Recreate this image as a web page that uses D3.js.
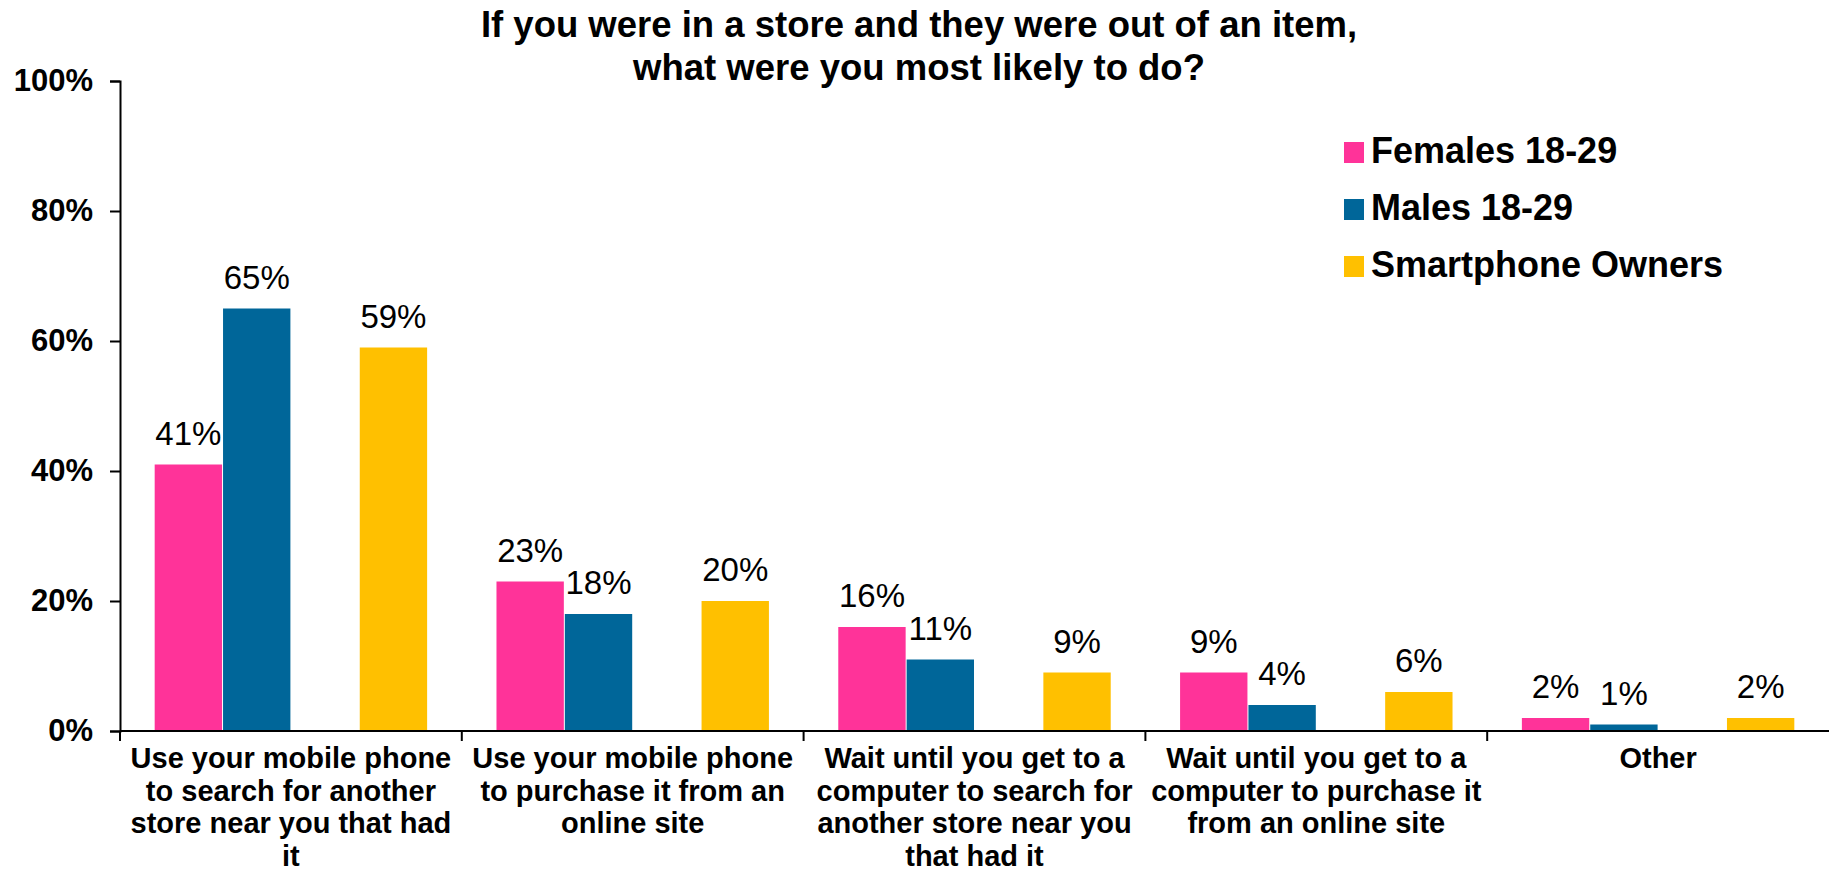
<!DOCTYPE html>
<html>
<head>
<meta charset="utf-8">
<script src="https://cdn.jsdelivr.net/npm/d3@7"></script>
<style>
  html, body { margin: 0; padding: 0; background: #ffffff; }
  svg { display: block; font-family: "Liberation Sans", Arial, Helvetica, sans-serif; }
</style>
</head>
<body>
<svg id="chart" width="1829" height="873"></svg>
<script>
// Survey answers (category axis)
const categories = [
  "Use your mobile phone to search for another store near you that had it",
  "Use your mobile phone to purchase it from an online site",
  "Wait until you get to a computer to search for another store near you that had it",
  "Wait until you get to a computer to purchase it from an online site",
  "Other"
];
// Wrapped category labels, one entry per line
const categoryLines = [
  ["Use your mobile phone", "to search for another", "store near you that had", "it"],
  ["Use your mobile phone", "to purchase it from an", "online site"],
  ["Wait until you get to a", "computer to search for", "another store near you", "that had it"],
  ["Wait until you get to a", "computer to purchase it", "from an online site"],
  ["Other"]
];
const seriesNames = ["Females 18-29", "Males 18-29", "Smartphone Owners"];
const females = [41, 23, 16, 9, 2];
const males = [65, 18, 11, 4, 1];
const smartphoneOwners = [59, 20, 9, 6, 2];
const yTicks = [0, 20, 40, 60, 80, 100];
const titleLines = [
  "If you were in a store and they were out of an item,",
  "what were you most likely to do?"
];
const colors = ["#ff3399", "#006699", "#ffc000"];

const seriesValues = [females, males, smartphoneOwners];

const svg = d3.select("#chart");
const W = 1829;
const margin = { left: 120, top: 81 };
const plotBottom = 731;

const y = d3.scaleLinear().domain([0, 100]).range([plotBottom, margin.top]);
const x0 = d3.scaleBand().domain(categories).range([margin.left, W]).paddingInner(0).paddingOuter(0);
// four slots per category; the third one is left empty
const slots = [seriesNames[0], seriesNames[1], "__gap", seriesNames[2]];
const x1 = d3.scaleBand().domain(slots).range([0, x0.bandwidth()]).paddingInner(0).paddingOuter(0.5);

// Title
svg.append("g").selectAll("text").data(titleLines).join("text")
  .attr("x", 919)
  .attr("y", (d, i) => 37 + i * 43)
  .attr("text-anchor", "middle")
  .attr("font-size", 36.5)
  .attr("font-weight", "bold")
  .attr("fill", "#000")
  .text(d => d);

// Bars
const rows = [];
categories.forEach((c, ci) => {
  seriesNames.forEach((s, si) => {
    rows.push({ category: c, series: s, value: seriesValues[si][ci], color: colors[si] });
  });
});

const barG = svg.append("g");
barG.selectAll("rect").data(rows).join("rect")
  .attr("x", d => x0(d.category) + x1(d.series) + 0.5)
  .attr("width", x1.bandwidth() - 1)
  .attr("y", d => y(d.value))
  .attr("height", d => y(0) - y(d.value))
  .attr("fill", d => d.color);

// Value labels
barG.selectAll("text").data(rows).join("text")
  .attr("x", d => x0(d.category) + x1(d.series) + x1.bandwidth() / 2)
  .attr("y", d => y(d.value) - 20)
  .attr("text-anchor", "middle")
  .attr("font-size", 33)
  .attr("fill", "#000")
  .text(d => d.value + "%");

// Y axis
const yAxis = d3.axisLeft(y)
  .tickValues(yTicks)
  .tickFormat(d => d + "%")
  .tickSize(10)
  .tickSizeOuter(10)
  .tickPadding(17);
const yg = svg.append("g").attr("transform", `translate(${margin.left},0)`).call(yAxis);
yg.selectAll("path, line").attr("stroke", "#000").attr("stroke-width", 2);
yg.selectAll("text")
  .attr("font-size", 31)
  .attr("font-weight", "bold")
  .attr("fill", "#000")
  .attr("font-family", "'Liberation Sans', Arial, sans-serif");

// X axis line and category boundary ticks
const xg = svg.append("g");
xg.append("line")
  .attr("x1", margin.left).attr("x2", W)
  .attr("y1", plotBottom).attr("y2", plotBottom)
  .attr("stroke", "#000").attr("stroke-width", 2);
xg.selectAll("line.tick").data(categories).join("line")
  .attr("class", "tick")
  .attr("x1", d => x0(d)).attr("x2", d => x0(d))
  .attr("y1", plotBottom).attr("y2", plotBottom + 10)
  .attr("stroke", "#000").attr("stroke-width", 2);

// Category labels
const catG = xg.selectAll("text.cat").data(categories).join("text")
  .attr("class", "cat")
  .attr("text-anchor", "middle")
  .attr("font-size", 29)
  .attr("font-weight", "bold")
  .attr("fill", "#000");
catG.each(function (d, i) {
  const cx = x0(d) + x0.bandwidth() / 2;
  d3.select(this).selectAll("tspan").data(categoryLines[i]).join("tspan")
    .attr("x", cx)
    .attr("y", (l, j) => 768 + j * 32.5)
    .text(l => l);
});

// Legend
const legend = svg.append("g");
const lg = legend.selectAll("g").data(seriesNames).join("g")
  .attr("transform", (d, i) => `translate(1344, ${163 + i * 57})`);
lg.append("rect")
  .attr("x", 0).attr("y", -21)
  .attr("width", 20).attr("height", 21)
  .attr("fill", (d, i) => colors[i]);
lg.append("text")
  .attr("x", 27).attr("y", 0)
  .attr("font-size", 36)
  .attr("font-weight", "bold")
  .attr("fill", "#000")
  .text(d => d);
</script>
</body>
</html>
